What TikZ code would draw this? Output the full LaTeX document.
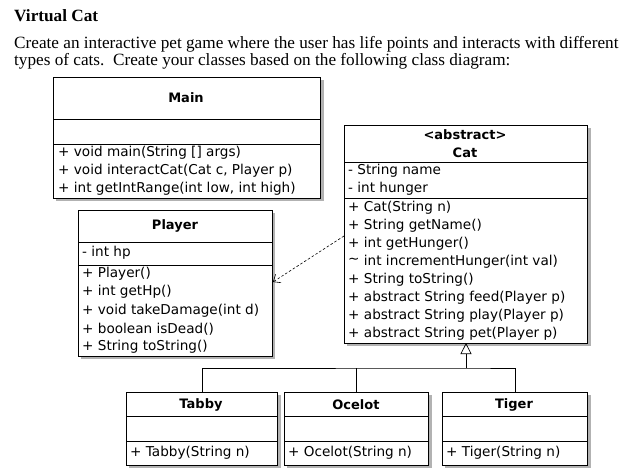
\documentclass[tikz,border=0pt]{standalone}
\usepackage{fontspec}
\setmainfont{Liberation Serif}
\newfontfamily\umlfont{DejaVu Sans}
\usetikzlibrary{arrows.meta}
\begin{document}
\begin{tikzpicture}[x=1pt,y=-1pt,
  box/.style={draw=black,line width=0.9pt,fill=white,inner sep=0pt,anchor=north west},
  shadow/.style={fill=black!30,draw=none},
  txt/.style={anchor=west,inner sep=0pt,font=\umlfont\fontsize{13.6}{15}\selectfont},
  ttl/.style={anchor=center,inner sep=0pt,font=\umlfont\bfseries\fontsize{13}{15}\selectfont},
  para/.style={anchor=base west,inner sep=0pt,font=\fontsize{17.2}{19}\selectfont}]
\useasboundingbox (0,0) rectangle (628,470);
\node[para,font=\bfseries\fontsize{17.2}{19}\selectfont] (title) at (14,22) {Virtual Cat};
\node[para] (p1) at (14,49) {Create an interactive pet game where the user has life points and interacts with different};
\node[para] (p2) at (14,66) {types of cats.\ \ Create your classes based on the following class diagram:};
% shadows
\fill[shadow] (56,80) rectangle (324,201);
\fill[shadow] (81,213) rectangle (275,359);
\fill[shadow] (347,128) rectangle (591,346);
\fill[shadow] (129,395) rectangle (281,468);
\fill[shadow] (287,395) rectangle (432,468);
\fill[shadow] (445,395) rectangle (591,468);
% Main
\node[box,minimum width=267,minimum height=121] (main) at (53,77) {};
\draw (53,119) -- (320,119) (53,144) -- (320,144);
\node[ttl] (mainT) at (186,98) {Main};
\node[txt] (m1) at (58,153) {+ void main(String [] args)};
\node[txt] (m2) at (58,171) {+ void interactCat(Cat c, Player p)};
\node[txt] (m3) at (58,189) {+ int getIntRange(int low, int high)};
% Player
\node[box,minimum width=194,minimum height=146] (player) at (78,210) {};
\draw (78,242) -- (272,242) (78,265) -- (272,265);
\node[ttl] (playerT) at (175,226) {Player};
\node[txt] (pa1) at (82,253) {- int hp};
\node[txt] (p1m) at (82,274) {+ Player()};
\node[txt] (p2m) at (82,292) {+ int getHp()};
\node[txt] (p3m) at (82,311) {+ void takeDamage(int d)};
\node[txt] (p4m) at (82,329) {+ boolean isDead()};
\node[txt] (p5m) at (82,347) {+ String toString()};
% Cat
\node[box,minimum width=243,minimum height=218] (cat) at (344,125) {};
\draw (344,162) -- (587,162) (344,198) -- (587,198);
\node[ttl] (catS) at (465,135) {<abstract>};
\node[ttl] (catT) at (465,153) {Cat};
\node[txt] (ca1) at (348,171) {- String name};
\node[txt] (ca2) at (348,189) {- int hunger};
\node[txt] (c1) at (348,208) {+ Cat(String n)};
\node[txt] (c2) at (348,226) {+ String getName()};
\node[txt] (c3) at (348,244) {+ int getHunger()};
\node[txt] (c4) at (348,262) {\raisebox{0.25ex}{\textasciitilde} int incrementHunger(int val)};
\node[txt] (c5) at (348,280) {+ String toString()};
\node[txt] (c6) at (348,298) {+ abstract String feed(Player p)};
\node[txt] (c7) at (348,316) {+ abstract String play(Player p)};
\node[txt] (c8) at (348,334) {+ abstract String pet(Player p)};
% subclasses
\node[box,minimum width=151,minimum height=73] (tabby) at (126,392) {};
\draw (126,416) -- (277,416) (126,441) -- (277,441);
\node[ttl] (tabbyT) at (201,405) {Tabby};
\node[txt] (t1) at (130,453) {+ Tabby(String n)};
\node[box,minimum width=144,minimum height=73] (ocelot) at (284,392) {};
\draw (284,416) -- (428,416) (284,441) -- (428,441);
\node[ttl] (ocelotT) at (356,405) {Ocelot};
\node[txt] (o1) at (288,453) {+ Ocelot(String n)};
\node[box,minimum width=145,minimum height=73] (tiger) at (442,392) {};
\draw (442,416) -- (587,416) (442,441) -- (587,441);
\node[ttl] (tigerT) at (514,405) {Tiger};
\node[txt] (g1) at (446,453) {+ Tiger(String n)};
% inheritance
\coordinate (hub) at (466,368);
\draw[line width=0.7pt] (tabby.north) |- (hub) -| (tiger.north);
\draw[line width=0.7pt] (ocelot.north) -- (ocelot.north |- hub);
\draw[line width=0.7pt,-{Triangle[open,width=11pt,length=11pt]}] (hub) -- (466,343);
% dependency
\draw[dashed,dash pattern=on 2.5pt off 2pt,line width=0.6pt,-{Straight Barb[length=6pt,width=10pt]}] (cat.west |- 0,236) -- (player.east |- 0,282);
\end{tikzpicture}
\end{document}
